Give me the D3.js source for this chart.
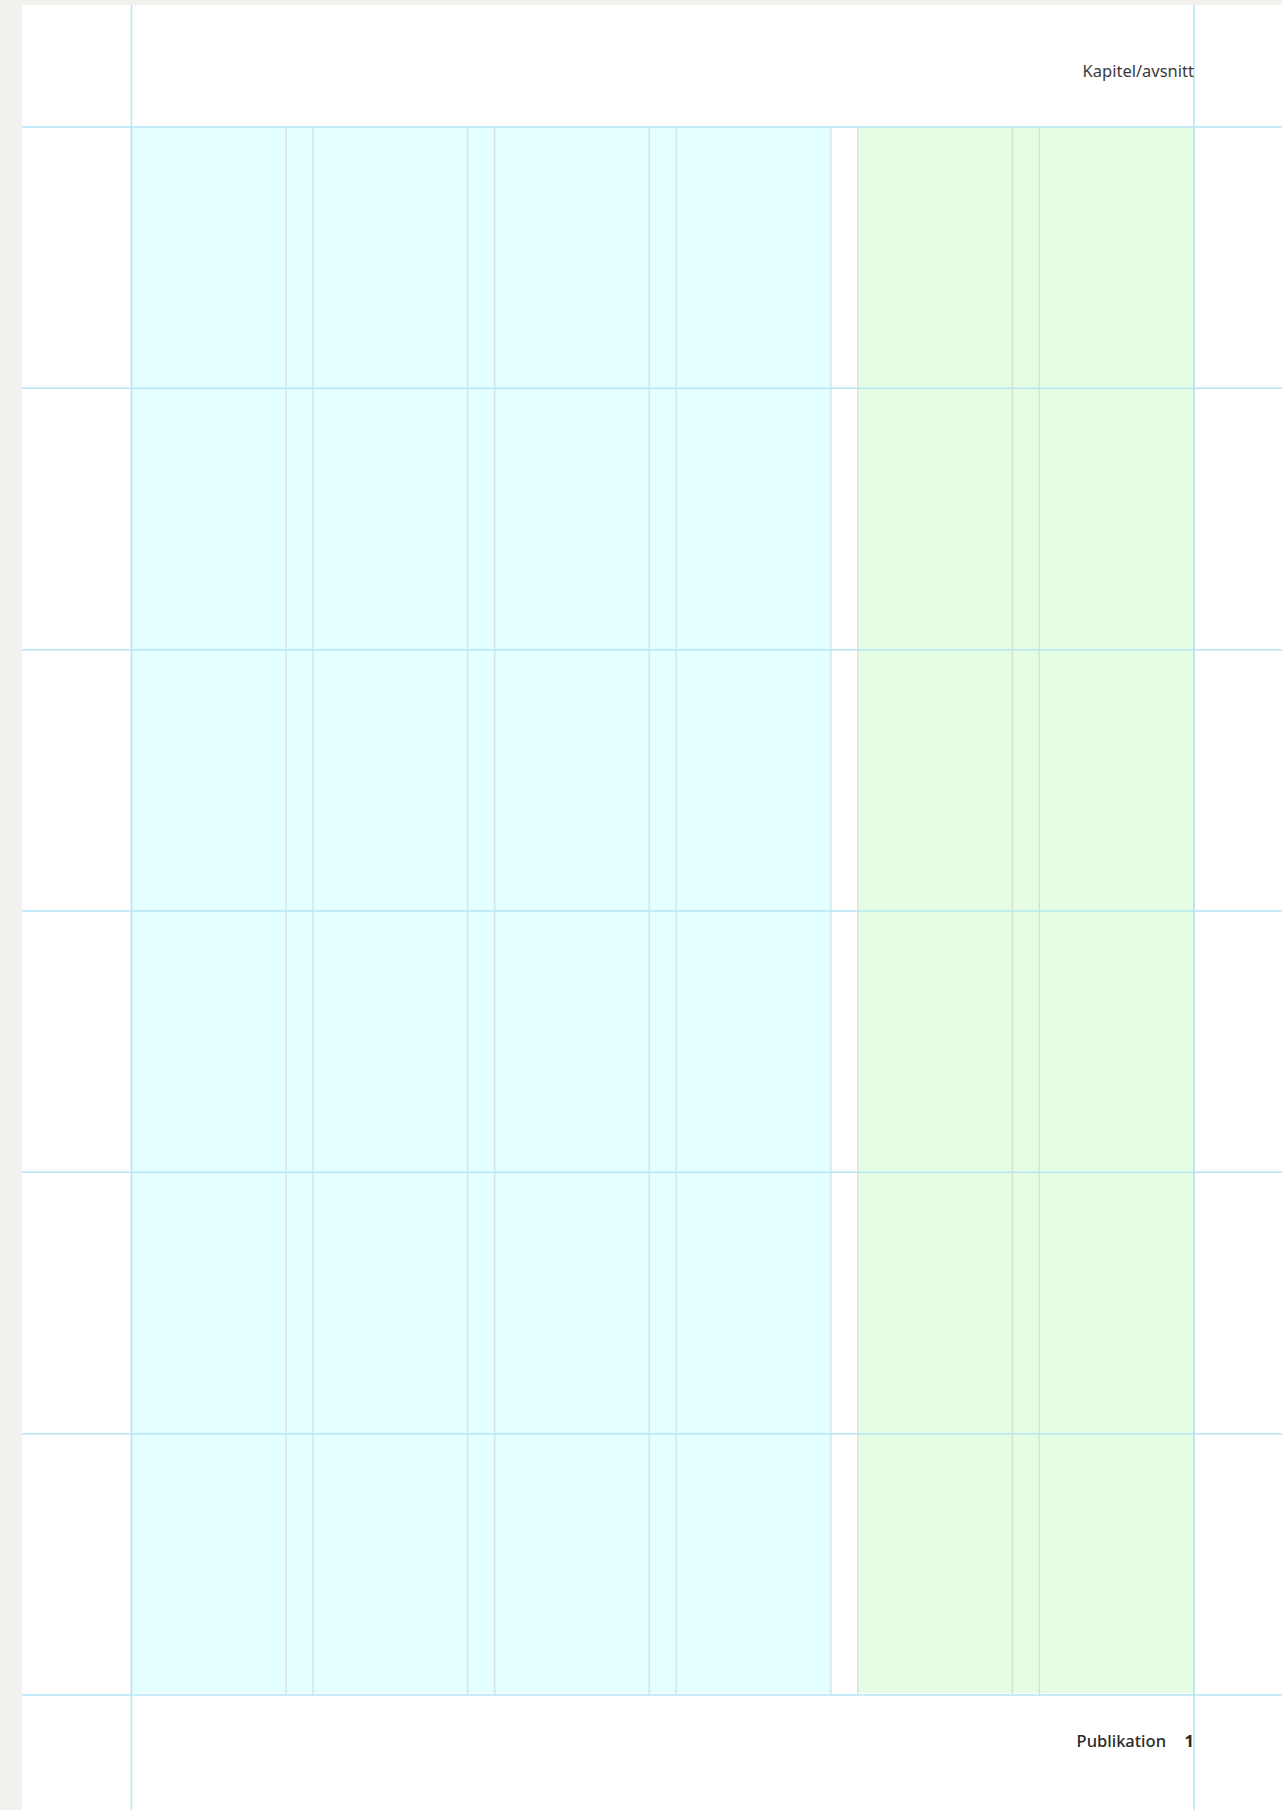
<!DOCTYPE html>
<html>
<head>
<meta charset="utf-8">
<script src="https://cdn.jsdelivr.net/npm/d3@7"></script>
<style>
  html, body { margin: 0; padding: 0; background: #f2f1ed; }
  svg { display: block; }
</style>
</head>
<body>
<div id="page"></div>
<script>
// grid content
const columns = ['k1', 'k2', 'k3', 'k4', 'k5', 'k6'];
const rows = ['r1', 'r2', 'r3', 'r4', 'r5', 'r6'];
const blocks = [
    { name: 'main', from: 'k1', to: 'k4', fill: '#e3ffff', line: '#d8e2ea' },
    { name: 'side', from: 'k5', to: 'k6', fill: '#e5fde5', line: '#dcdfd0' }
];
const headerText = 'Kapitel/avsnitt';
const footerText = 'Publikation';
const pageNumber = '1';

const W = 1282, H = 1810;
const page = { x: 22, y: 5 };
const margin = { left: 131.5, right: 1194, top: 127, bottom: 1695 };

const svg = d3.select('#page').append('svg')
    .attr('width', W)
    .attr('height', H);

svg.append('rect')
    .attr('width', W).attr('height', H)
    .attr('fill', '#f2f1ed');

svg.append('rect')
    .attr('x', page.x).attr('y', page.y)
    .attr('width', W - page.x).attr('height', H - page.y)
    .attr('fill', '#ffffff');

let x = d3.scaleBand()
    .domain(columns)
    .range([margin.left, margin.right])
    .paddingInner(0.1488)
    .paddingOuter(0);

let y = d3.scaleBand()
    .domain(rows)
    .range([margin.top, margin.bottom])
    .padding(0);

// coloured column blocks
svg.selectAll('.block')
    .data(blocks)
    .enter().append('rect')
    .attr('class', 'block')
    .attr('x', d => x(d.from))
    .attr('y', margin.top)
    .attr('width', d => x(d.to) + x.bandwidth() - x(d.from))
    .attr('height', margin.bottom - margin.top - 2)
    .attr('fill', d => d.fill);

// column edge lines
const edges = [];
blocks.forEach(b => {
    const i0 = columns.indexOf(b.from), i1 = columns.indexOf(b.to);
    columns.slice(i0, i1 + 1).forEach(c => {
        edges.push({ x: x(c), line: b.line });
        edges.push({ x: x(c) + x.bandwidth(), line: b.line });
    });
});

svg.selectAll('.edge')
    .data(edges)
    .enter().append('line')
    .attr('class', 'edge')
    .attr('x1', d => d.x).attr('x2', d => d.x)
    .attr('y1', margin.top).attr('y2', margin.bottom)
    .attr('stroke', d => d.line)
    .attr('stroke-width', 1.5);

// horizontal row guides
const rowLines = rows.map(r => y(r)).concat([margin.bottom]);
svg.selectAll('.hguide')
    .data(rowLines)
    .enter().append('line')
    .attr('class', 'hguide')
    .attr('x1', page.x).attr('x2', W)
    .attr('y1', d => d).attr('y2', d => d)
    .attr('stroke', '#b5e6f6')
    .attr('stroke-width', 1.5);

// vertical margin guides
svg.selectAll('.vguide')
    .data([margin.left, margin.right])
    .enter().append('line')
    .attr('class', 'vguide')
    .attr('x1', d => d).attr('x2', d => d)
    .attr('y1', page.y).attr('y2', H)
    .attr('stroke', '#b5e6f6')
    .attr('stroke-width', 1.5);

const font = '"Noto Sans", sans-serif';

// running header
svg.append('text')
    .attr('x', margin.right)
    .attr('y', 77)
    .attr('text-anchor', 'end')
    .attr('font-family', font)
    .attr('font-size', 16.5)
    .attr('fill', '#3a3a3a')
    .text(headerText);

// footer
svg.append('text')
    .attr('x', margin.right)
    .attr('y', 1747)
    .attr('text-anchor', 'end')
    .attr('font-family', font)
    .attr('font-size', 16.5)
    .attr('font-weight', 'bold')
    .attr('fill', '#2a2a2a')
    .text(pageNumber);

svg.append('text')
    .attr('x', margin.right - 28)
    .attr('y', 1747)
    .attr('text-anchor', 'end')
    .attr('font-family', font)
    .attr('font-size', 16.5)
    .attr('font-weight', 500)
    .attr('fill', '#2a2a2a')
    .text(footerText);
</script>
</body>
</html>
